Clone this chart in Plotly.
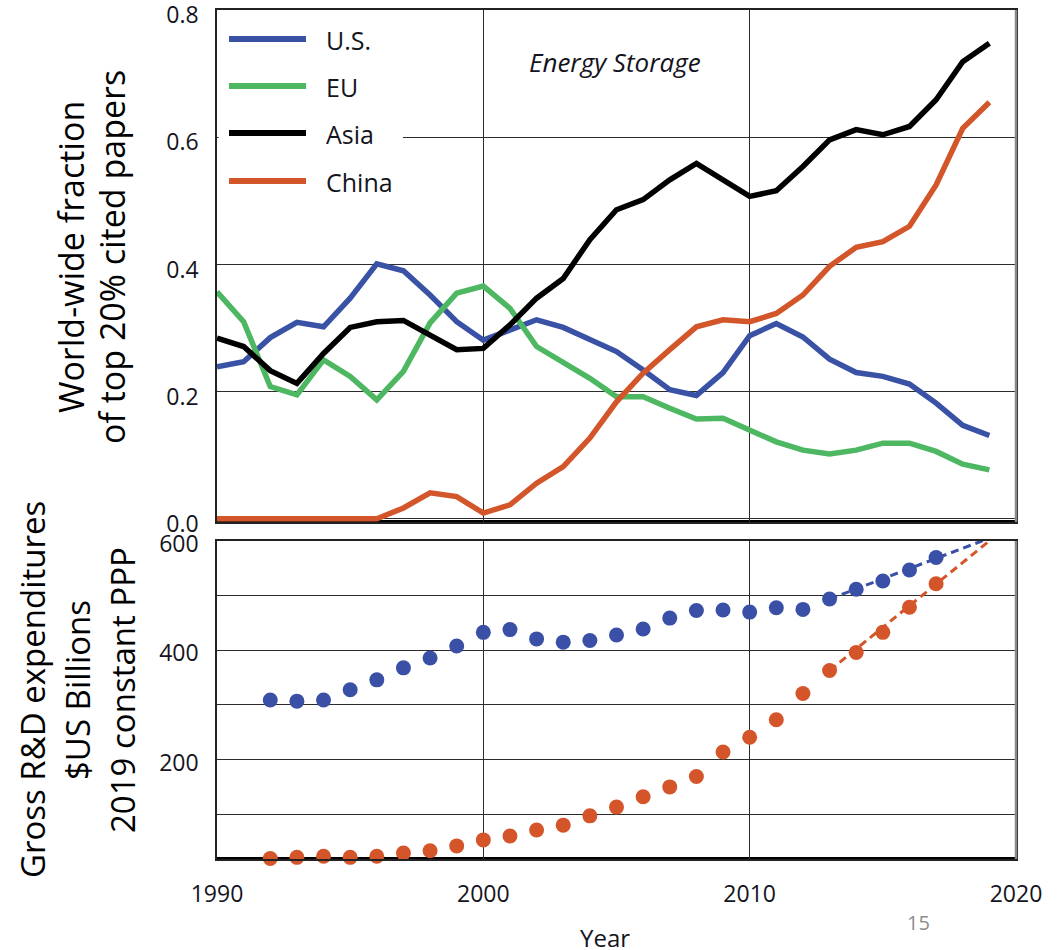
import plotly.graph_objects as go
from plotly.subplots import make_subplots

# ---------------- data ----------------
years_top = list(range(1990, 2020))
us_frac = [0.239, 0.247, 0.285, 0.309, 0.302, 0.347, 0.401, 0.390, 0.352, 0.310,
           0.281, 0.297, 0.313, 0.301, 0.281, 0.263, 0.234, 0.203, 0.194, 0.230,
           0.288, 0.307, 0.286, 0.251, 0.230, 0.224, 0.212, 0.182, 0.147, 0.131]
eu_frac = [0.357, 0.310, 0.208, 0.195, 0.250, 0.224, 0.187, 0.232, 0.308, 0.355,
           0.366, 0.331, 0.271, 0.245, 0.221, 0.192, 0.192, 0.174, 0.157, 0.158,
           0.140, 0.121, 0.108, 0.102, 0.108, 0.119, 0.119, 0.106, 0.086, 0.077]
asia_frac = [0.284, 0.271, 0.233, 0.213, 0.260, 0.301, 0.310, 0.312, 0.289, 0.266,
             0.268, 0.305, 0.347, 0.378, 0.439, 0.486, 0.502, 0.533, 0.559, 0.533,
             0.507, 0.516, 0.554, 0.596, 0.612, 0.604, 0.617, 0.659, 0.719, 0.748]
china_frac = [0, 0, 0, 0, 0, 0, 0, 0.017, 0.041, 0.035,
              0.009, 0.022, 0.056, 0.082, 0.127, 0.184, 0.229, 0.266, 0.302, 0.313,
              0.310, 0.323, 0.352, 0.397, 0.427, 0.436, 0.460, 0.525, 0.614, 0.655]

series_names = ["U.S.", "EU", "Asia", "China"]
series_colors = ["#3A52A5", "#4DB762", "#000000", "#D3552A"]

years_rd = list(range(1992, 2018))
us_rd = [309, 307, 309, 328, 346, 368, 386, 408, 433, 438, 421, 415, 418, 428,
         439, 459, 473, 474, 470, 478, 475, 494, 512, 527, 547, 570]
china_rd = [19, 21, 23, 21, 23, 29, 33, 42, 53, 60, 71, 80, 97, 113, 132, 150,
            169, 214, 241, 273, 321, 363, 396, 433, 479, 522]

trend_years = [2013, 2020]
us_trend = [494, 624]
china_trend = [363, 640]

x_ticks = [1990, 2000, 2010, 2020]
top_y_ticks = [0.0, 0.2, 0.4, 0.6, 0.8]
top_y_labels = ["0.0", "0.2", "0.4", "0.6", "0.8"]
bottom_y_ticks = [100, 200, 300, 400, 500, 600]
bottom_y_labels = ["", "200", "", "400", "", "600"]

# ---------------- figure ----------------
# body margin is removed by post_script, so figure pixels == window pixels
W, H = 1063, 950
PL, PR, PT, PB = 217, 1016, 10, 859          # plot-area edges in window pixels
L, R, T, B = PL, W - PR, PT, H - PB
pw, ph = PR - PL, PB - PT


def px_x(px):
    return (px - PL) / pw


def px_y(py):
    return (PB - py) / ph


FONT = "Open Sans"
TXT = "#141420"
GRID = "#2b2b2b"

fig = make_subplots(rows=2, cols=1, shared_xaxes=False, vertical_spacing=0)

top_series = [us_frac, eu_frac, asia_frac, china_frac]
for name, col, vals in zip(series_names, series_colors, top_series):
    fig.add_trace(go.Scatter(x=years_top, y=vals, mode="lines", name=name,
                             line=dict(color=col, width=5.5),
                             showlegend=False), row=1, col=1)

blue_dot = "#3A50A6"
orange_dot = "#D4552A"
fig.add_trace(go.Scatter(x=trend_years, y=us_trend, mode="lines",
                         line=dict(color=blue_dot, width=3, dash="8px,5px"),
                         showlegend=False), row=2, col=1)
fig.add_trace(go.Scatter(x=trend_years, y=china_trend, mode="lines",
                         line=dict(color=orange_dot, width=3, dash="8px,5px"),
                         showlegend=False), row=2, col=1)
fig.add_trace(go.Scatter(x=years_rd, y=us_rd, mode="markers",
                         marker=dict(color=blue_dot, size=15),
                         cliponaxis=False, showlegend=False), row=2, col=1)
fig.add_trace(go.Scatter(x=years_rd, y=china_rd, mode="markers",
                         marker=dict(color=orange_dot, size=15),
                         cliponaxis=False, showlegend=False), row=2, col=1)

top_dom = [px_y(522), 1.0]
bot_dom = [0.0, px_y(541)]

axis_common = dict(showline=True, mirror=True, linecolor="#222", linewidth=1.5,
                   gridcolor=GRID, gridwidth=1.2, zeroline=False, ticks="",
                   automargin=False, ticklabeloverflow="allow",
                   tickfont=dict(family=FONT, size=23, color=TXT))

fig.update_layout(
    width=W, height=H,
    margin=dict(l=L, r=R, t=T, b=B, autoexpand=False),
    paper_bgcolor="white", plot_bgcolor="white",
    showlegend=False,
    xaxis=dict(axis_common, range=[1990, 2020], tickvals=[2000, 2010],
               showticklabels=False, domain=[0, 1]),
    yaxis=dict(axis_common, range=[-0.005, 0.8002], tickvals=top_y_ticks,
               ticktext=top_y_labels, domain=top_dom, ticklabelstandoff=12,
               ticklabelshift=5),
    xaxis2=dict(axis_common, range=[1990, 2020], tickvals=x_ticks,
                domain=[0, 1], ticklabelstandoff=14),
    yaxis2=dict(axis_common, range=[18, 600.2], tickvals=bottom_y_ticks,
                ticktext=bottom_y_labels, domain=bot_dom, ticklabelstandoff=12,
                ticklabelshift=3),
)

shapes = []
# thick bottom axis lines and grey right borders
for ya, xa in (("y domain", "x domain"), ("y2 domain", "x2 domain")):
    shapes.append(dict(type="line", xref=xa, yref=ya, x0=0, x1=1, y0=0, y1=0,
                       line=dict(color="black", width=4), layer="below"))
    shapes.append(dict(type="line", xref=xa, yref=ya, x0=1, x1=1, y0=0, y1=1,
                       line=dict(color="#8a8a8a", width=2.5), layer="above"))
# legend background (hides grid line behind legend)
shapes.append(dict(type="rect", xref="paper", yref="paper",
                   x0=0.002, x1=px_x(403), y0=px_y(205), y1=px_y(12),
                   fillcolor="white", line=dict(width=0), layer="above"))

# manual legend
legend_rows = [39, 86, 133, 181]
annotations = []
for name, col, ry in zip(series_names, series_colors, legend_rows):
    shapes.append(dict(type="line", xref="paper", yref="paper",
                       x0=px_x(229), x1=px_x(306), y0=px_y(ry), y1=px_y(ry),
                       line=dict(color=col, width=6), layer="above"))
    annotations.append(dict(text=name, xref="paper", yref="paper",
                            x=px_x(324), y=px_y(ry + 1), xanchor="left",
                            yanchor="middle", showarrow=False,
                            font=dict(family=FONT, size=25, color=TXT)))

annotations.append(dict(text="<i>Energy Storage</i>", xref="paper", yref="paper",
                        x=px_x(615), y=px_y(62), xanchor="center", yanchor="middle",
                        showarrow=False, font=dict(family=FONT, size=26, color=TXT)))

for txt, cx, cy, fs in (("World-wide fraction", 71, 257, 34),
                        ("of top 20% cited papers", 112, 257, 34),
                        ("Gross R&amp;D expenditures", 32, 690, 33),
                        ("$US Billions", 77, 690, 33),
                        ("2019 constant PPP", 122, 690, 33)):
    annotations.append(dict(text=txt, xref="paper", yref="paper",
                            x=px_x(cx), y=px_y(cy), xanchor="center",
                            yanchor="middle", textangle=-90, showarrow=False,
                            font=dict(family=FONT, size=fs, color="black")))

annotations.append(dict(text="Year", xref="paper", yref="paper",
                        x=px_x(605), y=px_y(937), xanchor="center", yanchor="middle",
                        showarrow=False, font=dict(family=FONT, size=24, color=TXT)))
annotations.append(dict(text="15", xref="paper", yref="paper",
                        x=px_x(918), y=px_y(922), xanchor="center", yanchor="middle",
                        showarrow=False, font=dict(family=FONT, size=20, color="#8c8c8c")))

fig.update_layout(shapes=shapes, annotations=annotations)

fig.write_html("out.html", config={"displayModeBar": False},
               post_script="document.body.style.margin='0';document.body.style.overflow='hidden';")
